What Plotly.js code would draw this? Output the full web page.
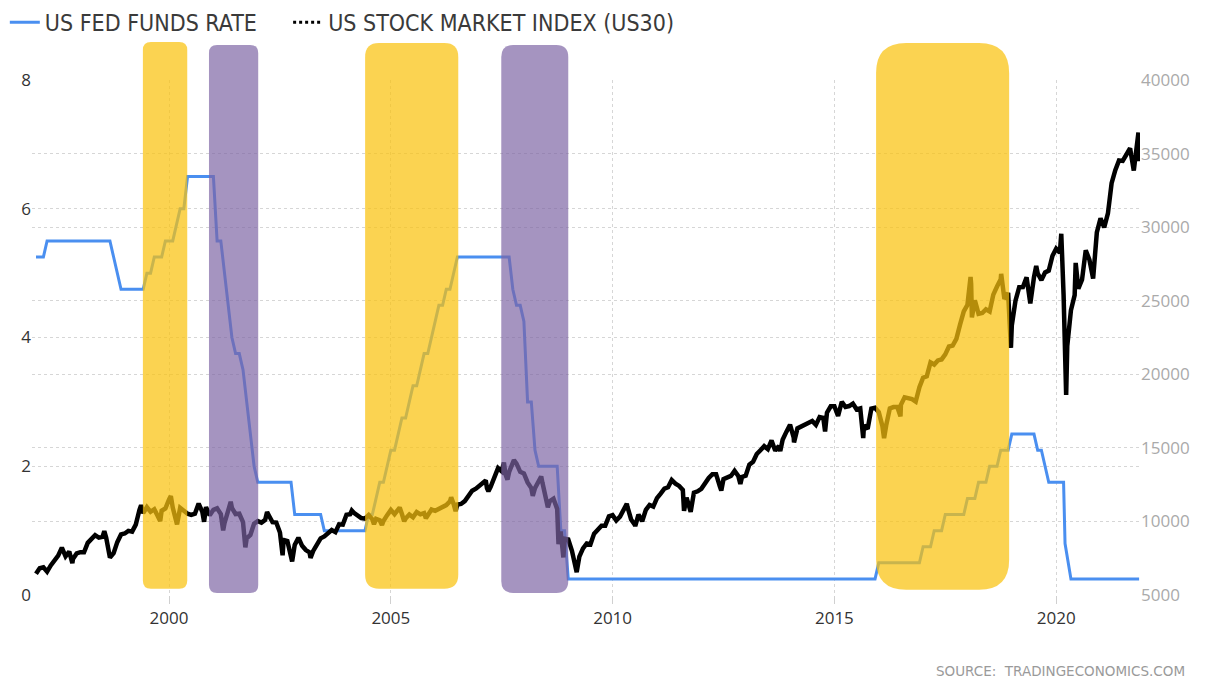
<!DOCTYPE html>
<html>
<head>
<meta charset="utf-8">
<script src="https://cdn.plot.ly/plotly-3.0.1.min.js"></script>
<style>
  html, body { margin: 0; padding: 0; background: #ffffff; }
  #chart { width: 1206px; height: 679px; }
</style>
</head>
<body>
<div id="chart"></div>
<script>
// ---------- DATA ----------
const seriesNames = ["US FED FUNDS RATE", "US STOCK MARKET INDEX (US30)"];
const xTickVals = [2000, 2005, 2010, 2015, 2020];
const xTickText = ["2000", "2005", "2010", "2015", "2020"];

// US Fed funds rate (%), corner points of the stepped line (decimal years)
const fedX = [1997.0, 1997.167, 1997.25, 1998.667, 1998.75, 1998.833, 1998.917, 1999.417, 1999.5, 1999.583, 1999.667, 1999.833, 1999.917, 2000.083, 2000.167, 2000.25, 2000.333, 2000.417, 2001.0, 2001.083, 2001.167, 2001.25, 2001.333, 2001.417, 2001.5, 2001.583, 2001.667, 2001.75, 2001.833, 2001.917, 2002.0, 2002.75, 2002.833, 2003.417, 2003.5, 2004.417, 2004.5, 2004.583, 2004.667, 2004.75, 2004.833, 2004.917, 2005.0, 2005.083, 2005.167, 2005.25, 2005.333, 2005.417, 2005.5, 2005.583, 2005.667, 2005.75, 2005.833, 2005.917, 2006.0, 2006.083, 2006.167, 2006.25, 2006.333, 2006.417, 2006.5, 2007.667, 2007.75, 2007.833, 2007.917, 2008.0, 2008.083, 2008.167, 2008.25, 2008.333, 2008.75, 2008.833, 2008.917, 2009.0, 2015.917, 2016.0, 2016.917, 2017.0, 2017.167, 2017.25, 2017.417, 2017.5, 2017.917, 2018.0, 2018.167, 2018.25, 2018.417, 2018.5, 2018.667, 2018.75, 2018.917, 2019.0, 2019.5, 2019.583, 2019.667, 2019.75, 2019.833, 2020.167, 2020.2, 2020.333, 2021.87];
const fedY = [5.25, 5.25, 5.5, 5.5, 5.25, 5.0, 4.75, 4.75, 5.0, 5.0, 5.25, 5.25, 5.5, 5.5, 5.75, 6.0, 6.0, 6.5, 6.5, 5.5, 5.5, 5.0, 4.5, 4.0, 3.75, 3.75, 3.5, 3.0, 2.5, 2.0, 1.75, 1.75, 1.25, 1.25, 1.0, 1.0, 1.25, 1.25, 1.5, 1.75, 1.75, 2.0, 2.25, 2.25, 2.5, 2.75, 2.75, 3.0, 3.25, 3.25, 3.5, 3.75, 3.75, 4.0, 4.25, 4.5, 4.5, 4.75, 4.75, 5.0, 5.25, 5.25, 4.75, 4.5, 4.5, 4.25, 3.0, 3.0, 2.25, 2.0, 2.0, 1.0, 1.0, 0.25, 0.25, 0.5, 0.5, 0.75, 0.75, 1.0, 1.0, 1.25, 1.25, 1.5, 1.5, 1.75, 1.75, 2.0, 2.0, 2.25, 2.25, 2.5, 2.5, 2.25, 2.25, 2.0, 1.75, 1.75, 0.8, 0.25, 0.25];

// US stock market index (US30), decimal years
const dowX = [1997.0, 1997.083, 1997.167, 1997.25, 1997.333, 1997.417, 1997.5, 1997.583, 1997.667, 1997.75, 1997.82, 1997.833, 1997.917, 1998.0, 1998.083, 1998.167, 1998.25, 1998.333, 1998.417, 1998.5, 1998.54, 1998.583, 1998.667, 1998.75, 1998.833, 1998.917, 1999.0, 1999.083, 1999.167, 1999.25, 1999.333, 1999.37, 1999.417, 1999.5, 1999.583, 1999.667, 1999.75, 1999.8, 1999.833, 1999.917, 2000.0, 2000.04, 2000.083, 2000.167, 2000.18, 2000.25, 2000.333, 2000.417, 2000.5, 2000.583, 2000.667, 2000.75, 2000.79, 2000.833, 2000.917, 2001.0, 2001.083, 2001.167, 2001.22, 2001.25, 2001.333, 2001.39, 2001.417, 2001.5, 2001.583, 2001.667, 2001.72, 2001.75, 2001.833, 2001.917, 2002.0, 2002.083, 2002.167, 2002.21, 2002.25, 2002.333, 2002.417, 2002.5, 2002.56, 2002.583, 2002.667, 2002.75, 2002.775, 2002.833, 2002.917, 2003.0, 2003.083, 2003.167, 2003.19, 2003.25, 2003.333, 2003.417, 2003.5, 2003.583, 2003.667, 2003.75, 2003.833, 2003.917, 2004.0, 2004.083, 2004.12, 2004.167, 2004.25, 2004.333, 2004.417, 2004.5, 2004.583, 2004.62, 2004.667, 2004.75, 2004.8, 2004.833, 2004.917, 2005.0, 2005.083, 2005.167, 2005.2, 2005.25, 2005.3, 2005.333, 2005.417, 2005.5, 2005.583, 2005.667, 2005.75, 2005.79, 2005.833, 2005.917, 2006.0, 2006.083, 2006.167, 2006.25, 2006.333, 2006.36, 2006.417, 2006.46, 2006.5, 2006.583, 2006.667, 2006.75, 2006.833, 2006.917, 2007.0, 2007.083, 2007.14, 2007.167, 2007.2, 2007.25, 2007.333, 2007.417, 2007.5, 2007.55, 2007.583, 2007.63, 2007.667, 2007.75, 2007.775, 2007.833, 2007.917, 2008.0, 2008.083, 2008.167, 2008.2, 2008.25, 2008.333, 2008.39, 2008.417, 2008.5, 2008.54, 2008.583, 2008.667, 2008.75, 2008.78, 2008.83, 2008.89, 2008.917, 2009.0, 2009.083, 2009.167, 2009.19, 2009.25, 2009.333, 2009.417, 2009.5, 2009.583, 2009.667, 2009.75, 2009.833, 2009.917, 2010.0, 2010.083, 2010.167, 2010.25, 2010.32, 2010.333, 2010.417, 2010.5, 2010.51, 2010.583, 2010.667, 2010.75, 2010.833, 2010.917, 2011.0, 2011.083, 2011.167, 2011.25, 2011.333, 2011.417, 2011.5, 2011.583, 2011.61, 2011.667, 2011.75, 2011.76, 2011.833, 2011.917, 2012.0, 2012.083, 2012.167, 2012.25, 2012.333, 2012.417, 2012.45, 2012.5, 2012.583, 2012.667, 2012.75, 2012.833, 2012.88, 2012.917, 2013.0, 2013.083, 2013.167, 2013.25, 2013.333, 2013.417, 2013.5, 2013.583, 2013.667, 2013.75, 2013.78, 2013.833, 2013.917, 2014.0, 2014.083, 2014.09, 2014.167, 2014.25, 2014.333, 2014.417, 2014.5, 2014.583, 2014.667, 2014.75, 2014.79, 2014.833, 2014.917, 2015.0, 2015.083, 2015.167, 2015.25, 2015.333, 2015.417, 2015.5, 2015.583, 2015.65, 2015.667, 2015.75, 2015.833, 2015.917, 2016.0, 2016.083, 2016.12, 2016.167, 2016.25, 2016.333, 2016.417, 2016.49, 2016.5, 2016.583, 2016.667, 2016.75, 2016.833, 2016.917, 2017.0, 2017.083, 2017.167, 2017.25, 2017.333, 2017.417, 2017.5, 2017.583, 2017.667, 2017.75, 2017.833, 2017.917, 2018.0, 2018.07, 2018.083, 2018.1, 2018.167, 2018.25, 2018.333, 2018.417, 2018.5, 2018.583, 2018.667, 2018.75, 2018.76, 2018.833, 2018.917, 2018.98, 2019.0, 2019.083, 2019.167, 2019.25, 2019.333, 2019.417, 2019.5, 2019.55, 2019.583, 2019.667, 2019.75, 2019.833, 2019.917, 2020.0, 2020.083, 2020.115, 2020.167, 2020.225, 2020.25, 2020.333, 2020.417, 2020.44, 2020.5, 2020.583, 2020.667, 2020.75, 2020.833, 2020.917, 2021.0, 2021.083, 2021.167, 2021.25, 2021.333, 2021.417, 2021.5, 2021.583, 2021.667, 2021.75, 2021.833, 2021.855, 2021.87];
const dowY = [6448, 6813, 6877, 6584, 7009, 7331, 7673, 8223, 7622, 7945, 7161, 7443, 7823, 7908, 7907, 8546, 8800, 9063, 8900, 8952, 9338, 8883, 7539, 7843, 8592, 9117, 9181, 9359, 9307, 9786, 10789, 11107, 10560, 10971, 10655, 10829, 10337, 10019, 10730, 10878, 11497, 11723, 10941, 10128, 9796, 10922, 10734, 10522, 10448, 10522, 11215, 10651, 9975, 10971, 10415, 10787, 10887, 10495, 9389, 9879, 10735, 11337, 10912, 10502, 10523, 9950, 8236, 8848, 9075, 9852, 10021, 9920, 10106, 10635, 10404, 9946, 9925, 9243, 7702, 8737, 8664, 7592, 7286, 8397, 8896, 8342, 8054, 7891, 7524, 7992, 8480, 8850, 8985, 9233, 9416, 9275, 9801, 9782, 10454, 10488, 10737, 10584, 10358, 10226, 10188, 10435, 10140, 9815, 10174, 10080, 9750, 10027, 10428, 10783, 10490, 10766, 10940, 10504, 10012, 10193, 10467, 10275, 10641, 10482, 10569, 10216, 10440, 10806, 10718, 10865, 10993, 11109, 11367, 11642, 11168, 10706, 11150, 11186, 11381, 11679, 12081, 12222, 12463, 12622, 12786, 12269, 12050, 12354, 13063, 13628, 13409, 14000, 13212, 12845, 13358, 13896, 14165, 13930, 13372, 13265, 12650, 12266, 11740, 12263, 12820, 13058, 12638, 11350, 10962, 11378, 11544, 10851, 8451, 9325, 7552, 8829, 8776, 8001, 7063, 6547, 7609, 8168, 8500, 8447, 9172, 9496, 9712, 9713, 10345, 10428, 10067, 10325, 10857, 11205, 11009, 10137, 9774, 9686, 10466, 10015, 10788, 11118, 11006, 11578, 11892, 12226, 12320, 12811, 12570, 12414, 12143, 10720, 11614, 10913, 10655, 11955, 12046, 12218, 12633, 12952, 13212, 13214, 12393, 12101, 12880, 13009, 13091, 13437, 13096, 12542, 13026, 13104, 13861, 14054, 14579, 14840, 15116, 14910, 15500, 14810, 15130, 14776, 15546, 16086, 16577, 15699, 15373, 16322, 16458, 16581, 16717, 16827, 16563, 17098, 17043, 16117, 17391, 17828, 17823, 17165, 18133, 17776, 17841, 18011, 17620, 17690, 15666, 16528, 16285, 17664, 17720, 17425, 16466, 15660, 16517, 17685, 17774, 17787, 17140, 17930, 18432, 18401, 18308, 18142, 19124, 19763, 19864, 20812, 20663, 20941, 21009, 21350, 21891, 21948, 22405, 23377, 24272, 24719, 26617, 26149, 23860, 25029, 24103, 24163, 24416, 24271, 25415, 25965, 26458, 26828, 25116, 25538, 21792, 23327, 24999, 25916, 25929, 26593, 24815, 26600, 27359, 26864, 26403, 26917, 27046, 28051, 28538, 28256, 29551, 25409, 18592, 21917, 24346, 25383, 27572, 25813, 26428, 28430, 27782, 26502, 29639, 30606, 29983, 30932, 32982, 33875, 34529, 34503, 34935, 35361, 33844, 35820, 36432, 34484];

// Highlight bands: [start year, end year, kind]
const bandStart = [1999.41, 2000.90, 2004.42, 2007.49, 2015.94];
const bandEnd   = [2000.41, 2002.01, 2006.52, 2009.00, 2018.94];
const bandKind  = ["hike", "cut", "hike", "cut", "hike"];

// ---------- STYLE / LAYOUT ----------
const PX_PER_YEAR = 44.35;   // x scale in pixels
const PLOT_H = 515;          // plot height in pixels
const bandTop = [1.074, 1.068, 1.072, 1.068, 1.072];
const bandBottom = [0.012, 0.004, 0.012, 0.004, 0.010];
const bandRadius = [8, 8, 14, 12, 30];
const bandColor = { hike: "rgba(250,194,14,0.72)", cut: "rgba(124,100,163,0.69)" };

function roundedPath(x0, x1, y0, y1, rpx) {
  const rx = rpx / PX_PER_YEAR, ry = rpx / PLOT_H;
  const f = v => v.toFixed(5);
  return "M" + f(x0 + rx) + "," + f(y0) +
    " L" + f(x1 - rx) + "," + f(y0) +
    " Q" + f(x1) + "," + f(y0) + " " + f(x1) + "," + f(y0 + ry) +
    " L" + f(x1) + "," + f(y1 - ry) +
    " Q" + f(x1) + "," + f(y1) + " " + f(x1 - rx) + "," + f(y1) +
    " L" + f(x0 + rx) + "," + f(y1) +
    " Q" + f(x0) + "," + f(y1) + " " + f(x0) + "," + f(y1 - ry) +
    " L" + f(x0) + "," + f(y0 + ry) +
    " Q" + f(x0) + "," + f(y0) + " " + f(x0 + rx) + "," + f(y0) + " Z";
}

const shapes = bandStart.map((s, i) => ({
  type: "path",
  xref: "x", yref: "paper",
  path: roundedPath(s, bandEnd[i], bandBottom[i], bandTop[i], bandRadius[i]),
  fillcolor: bandColor[bandKind[i]],
  line: { width: 0 },
  layer: "above"
}));

const NBSP = "\u00a0";
const traces = [
  {
    x: fedX, y: fedY, type: "scatter", mode: "lines",
    name: seriesNames[0] + NBSP.repeat(4), yaxis: "y",
    line: { color: "#4a8ff0", width: 3 },
    hoverinfo: "skip"
  },
  {
    x: dowX, y: dowY, type: "scatter", mode: "lines",
    name: seriesNames[1], yaxis: "y2", showlegend: false,
    line: { color: "#000000", width: 4.5 },
    hoverinfo: "skip"
  },
  {
    x: [null], y: [null], type: "scatter", mode: "lines",
    name: seriesNames[1], yaxis: "y2",
    line: { color: "#000000", width: 3, dash: "dot" }
  }
];

const gridCol = "#d6d6d6";
const layout = {
  width: 1206, height: 679,
  margin: { l: 32, r: 66, t: 80, b: 84, autoexpand: false },
  paper_bgcolor: "#ffffff", plot_bgcolor: "#ffffff",
  font: { family: "Open Sans, DejaVu Sans, sans-serif", color: "#333" },
  showlegend: true,
  legend: {
    orientation: "h",
    xref: "container", yref: "container",
    x: 0.004, xanchor: "left", y: 0.967, yanchor: "middle",
    font: { family: "Liberation Sans Narrow, DejaVu Sans Condensed, Roboto, sans-serif", size: 23, color: "#3a3a3a" },
    bgcolor: "rgba(0,0,0,0)"
  },
  xaxis: {
    range: [1996.91, 2021.89], automargin: false,
    tickmode: "array", tickvals: xTickVals, ticktext: xTickText,
    showgrid: true, gridcolor: gridCol, griddash: "dot", gridwidth: 1,
    ticks: "outside", ticklen: 8, tickcolor: "#d0d0d0", tickwidth: 1,
    zeroline: false, showline: false,
    tickfont: { size: 17, color: "#333" }
  },
  yaxis: {
    range: [0, 8], dtick: 2, tick0: 0, automargin: false,
    showgrid: true, gridcolor: gridCol, griddash: "dot",
    zeroline: false, showline: false,
    tickfont: { size: 17, color: "#333" }
  },
  yaxis2: {
    overlaying: "y", side: "right", automargin: false,
    range: [5000, 40000], dtick: 5000, tick0: 5000, tickformat: "d",
    showgrid: true, gridcolor: gridCol, griddash: "dot",
    zeroline: false, showline: false,
    tickfont: { size: 17, color: "#aaaaaa" }
  },
  shapes: shapes,
  annotations: [{
    xref: "paper", yref: "paper", x: 1.0424, y: -0.1476,
    xanchor: "right", yanchor: "middle", showarrow: false,
    text: "SOURCE:  TRADINGECONOMICS.COM",
    font: { family: "DejaVu Sans, sans-serif", size: 13.5, color: "#9a9a9a" }
  }]
};

Plotly.newPlot("chart", traces, layout, { displayModeBar: false, staticPlot: true });
</script>
</body>
</html>
